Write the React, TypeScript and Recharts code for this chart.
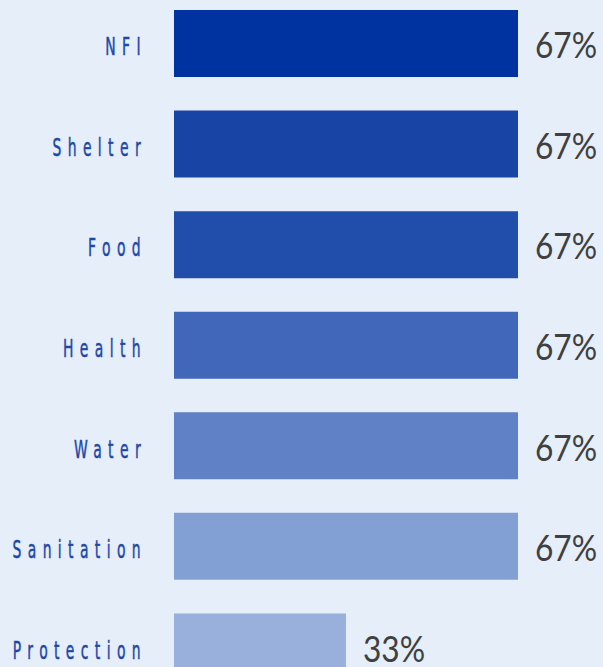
import React from 'react';
import { BarChart, Bar, XAxis, YAxis, Cell, LabelList } from 'recharts';

const categories = ['NFI', 'Shelter', 'Food', 'Health', 'Water', 'Sanitation', 'Protection'];
const shares = [66.67, 66.67, 66.67, 66.67, 66.67, 66.67, 33.33];
const barColors = ['#0033a0', '#1845a5', '#214dab', '#4167ba', '#6081c6', '#83a0d5', '#98b0db'];

const data = categories.map((name, i) => ({ name, value: shares[i] }));

// narrow, widely spaced category labels
const CategoryTick = (props: any) => {
  const { x, y, payload } = props;
  return (
    <g transform={`translate(${x + 6}, ${y + 12}) scale(0.58, 1)`}>
      <text
        x={0}
        y={0}
        textAnchor="end"
        fill="#1c48a8"
        fontSize={24}
        letterSpacing={11}
        fontFamily="'DejaVu Sans', sans-serif"
        stroke="#1c48a8"
        strokeWidth={0.5}
      >
        {payload.value}
      </text>
    </g>
  );
};

const ValueLabel = (props: any) => {
  const { x, y, width, height, value } = props;
  return (
    <g transform={`translate(${x + width + 17}, ${y + height / 2 + 1}) scale(0.88, 1)`}>
      <text
        x={0}
        y={0}
        dominantBaseline="central"
        fill="#404040"
        fontSize={36}
        fontFamily="Lato, sans-serif"
      >
        {`${Math.round(Number(value))}%`}
      </text>
    </g>
  );
};

export default function App() {
  return (
    <div
      style={{
        position: 'fixed',
        left: 0,
        top: 0,
        width: 603,
        height: 667,
        overflow: 'hidden',
        background: '#e6eefa',
      }}
    >
      <div style={{ position: 'absolute', left: 0, top: -6.75 }}>
        <BarChart
          width={603}
          height={704}
          data={data}
          layout="vertical"
          margin={{ top: 0, right: 85, bottom: 0, left: 0 }}
          barCategoryGap={0}
        >
          <XAxis type="number" domain={[0, 66.67]} hide />
          <YAxis
            type="category"
            dataKey="name"
            width={174}
            axisLine={false}
            tickLine={false}
            tickMargin={27}
            tick={<CategoryTick />}
            interval={0}
          />
          <Bar dataKey="value" barSize={67} isAnimationActive={false}>
            {data.map((d, i) => (
              <Cell key={d.name} fill={barColors[i]} />
            ))}
            <LabelList dataKey="value" content={<ValueLabel />} />
          </Bar>
        </BarChart>
      </div>
    </div>
  );
}
